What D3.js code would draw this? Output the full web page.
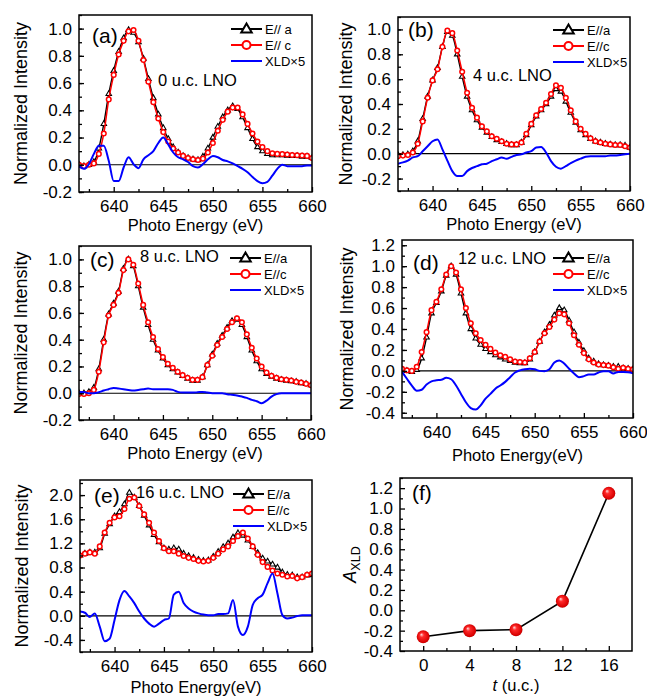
<!DOCTYPE html>
<html>
<head>
<meta charset="utf-8">
<script src="https://cdn.jsdelivr.net/npm/d3@7"></script>
<style>
body { margin: 0; background: #fff; }
svg { display: block; }
text { font-family: "Liberation Sans", Arial, sans-serif; }
</style>
</head>
<body>
<svg width="647" height="698"></svg>
<script>
// photon energy grid (eV), shared by every spectrum
var energy = [636.5, 637, 637.5, 638, 638.5, 639, 639.5, 640, 640.5, 641,
	641.5, 642, 642.5, 643, 643.5, 644, 644.5, 645, 645.5, 646,
	646.5, 647, 647.5, 648, 648.5, 649, 649.5, 650, 650.5, 651,
	651.5, 652, 652.5, 653, 653.5, 654, 654.5, 655, 655.5, 656,
	656.5, 657, 657.5, 658, 658.5, 659, 659.5, 660];

// (a) 0 u.c.
var aEa = [0.00, -0.01, 0.00, 0.02, 0.12, 0.30, 0.52, 0.69, 0.83, 0.93,
	0.99, 0.97, 0.90, 0.78, 0.63, 0.49, 0.37, 0.27, 0.19, 0.13,
	0.09, 0.065, 0.05, 0.04, 0.035, 0.06, 0.12, 0.20, 0.28, 0.35,
	0.40, 0.43, 0.41, 0.35, 0.27, 0.19, 0.13, 0.10, 0.08, 0.07,
	0.07, 0.07, 0.068, 0.065, 0.065, 0.06, 0.06, 0.05];
var aEc = [0.00, -0.01, 0.00, 0.01, 0.08, 0.23, 0.48, 0.66, 0.81, 0.91,
	0.98, 0.99, 0.91, 0.77, 0.61, 0.46, 0.34, 0.24, 0.17, 0.12,
	0.09, 0.065, 0.05, 0.04, 0.035, 0.045, 0.09, 0.16, 0.25, 0.33,
	0.39, 0.42, 0.42, 0.37, 0.30, 0.23, 0.17, 0.13, 0.10, 0.085,
	0.08, 0.078, 0.075, 0.072, 0.07, 0.068, 0.065, 0.05];
var aXld = [-0.01, -0.03, 0.005, 0.08, 0.14, 0.14, 0.03, -0.12, -0.12, -0.02,
	0.055, 0.005, -0.025, 0.04, 0.07, 0.10, 0.16, 0.20, 0.15, 0.09,
	0.055, 0.04, 0.02, -0.01, -0.02, 0.005, 0.04, 0.065, 0.055, 0.035,
	0.025, 0.01, -0.01, -0.03, -0.055, -0.09, -0.12, -0.135, -0.125, -0.08,
	-0.03, 0.0, -0.01, -0.01, -0.01, -0.01, -0.005, -0.005];

// (b) 4 u.c.
var bEa = [-0.01, -0.01, -0.005, 0.02, 0.10, 0.28, 0.46, 0.59, 0.69, 0.86,
	0.98, 0.95, 0.80, 0.62, 0.46, 0.35, 0.27, 0.21, 0.17, 0.135,
	0.11, 0.095, 0.08, 0.07, 0.07, 0.09, 0.15, 0.23, 0.30, 0.35,
	0.40, 0.46, 0.52, 0.50, 0.42, 0.33, 0.25, 0.19, 0.15, 0.12,
	0.10, 0.09, 0.08, 0.075, 0.07, 0.07, 0.065, 0.05];
var bEc = [-0.02, -0.015, -0.01, 0.01, 0.08, 0.26, 0.45, 0.59, 0.68, 0.86,
	0.99, 0.97, 0.83, 0.66, 0.49, 0.37, 0.29, 0.22, 0.18, 0.14,
	0.12, 0.10, 0.08, 0.075, 0.075, 0.09, 0.16, 0.24, 0.31, 0.36,
	0.41, 0.48, 0.55, 0.53, 0.45, 0.35, 0.26, 0.20, 0.16, 0.125,
	0.10, 0.09, 0.08, 0.075, 0.07, 0.07, 0.06, 0.05];
var bXld = [-0.08, -0.07, -0.055, -0.03, -0.02, 0.02, 0.06, 0.10, 0.115, 0.035,
	-0.055, -0.14, -0.18, -0.18, -0.14, -0.115, -0.10, -0.085, -0.08, -0.06,
	-0.045, -0.03, -0.04, -0.025, -0.01, -0.005, 0.01, 0.02, 0.05, 0.055,
	0.01, -0.06, -0.105, -0.12, -0.10, -0.075, -0.055, -0.04, -0.025, -0.02,
	-0.02, -0.02, -0.02, -0.015, -0.015, -0.01, -0.005, 0.0];

// (c) 8 u.c.
var cEa = [0.0, 0.0, 0.01, 0.04, 0.18, 0.40, 0.59, 0.67, 0.76, 0.93,
	1.0, 0.95, 0.80, 0.64, 0.51, 0.40, 0.32, 0.26, 0.21, 0.18,
	0.155, 0.13, 0.11, 0.095, 0.095, 0.12, 0.21, 0.29, 0.37, 0.43,
	0.49, 0.54, 0.55, 0.51, 0.42, 0.32, 0.24, 0.18, 0.145, 0.125,
	0.11, 0.10, 0.095, 0.09, 0.085, 0.075, 0.07, 0.06];
var cEc = [-0.005, -0.005, 0.0, 0.025, 0.16, 0.38, 0.58, 0.66, 0.75, 0.92,
	1.0, 0.96, 0.82, 0.66, 0.53, 0.42, 0.33, 0.27, 0.22, 0.19,
	0.16, 0.135, 0.115, 0.10, 0.10, 0.12, 0.21, 0.28, 0.36, 0.42,
	0.48, 0.53, 0.56, 0.53, 0.44, 0.34, 0.26, 0.20, 0.155, 0.13,
	0.115, 0.105, 0.10, 0.095, 0.085, 0.08, 0.07, 0.06];
var cXld = [0.01, 0.01, 0.0, 0.0, 0.007, 0.02, 0.03, 0.04, 0.035, 0.03,
	0.025, 0.02, 0.025, 0.03, 0.035, 0.03, 0.03, 0.03, 0.03, 0.025,
	0.01, 0.005, 0.005, 0.005, 0.007, 0.01, 0.005, 0.0, 0.0, 0.0,
	-0.007, -0.012, -0.017, -0.025, -0.035, -0.05, -0.06, -0.075, -0.055, -0.025,
	-0.007, 0.0, 0.0, 0.0, 0.0, 0.0, 0.0, 0.0];

// (d) 12 u.c.
var dEa = [0.01, 0.0, -0.01, 0.01, 0.12, 0.32, 0.55, 0.65, 0.76, 0.91,
	1.0, 0.92, 0.74, 0.55, 0.40, 0.31, 0.25, 0.21, 0.18, 0.15,
	0.13, 0.11, 0.095, 0.08, 0.075, 0.075, 0.11, 0.18, 0.28, 0.37,
	0.44, 0.53, 0.60, 0.58, 0.48, 0.37, 0.27, 0.19, 0.12, 0.09,
	0.065, 0.055, 0.05, 0.04, 0.04, 0.025, 0.02, 0.015];
var dEc = [0.02, 0.005, 0.0, 0.04, 0.18, 0.37, 0.58, 0.66, 0.78, 0.92,
	1.0, 0.94, 0.78, 0.60, 0.455, 0.36, 0.295, 0.25, 0.21, 0.175,
	0.15, 0.135, 0.11, 0.09, 0.085, 0.08, 0.12, 0.18, 0.28, 0.36,
	0.42, 0.49, 0.55, 0.54, 0.455, 0.34, 0.25, 0.17, 0.11, 0.08,
	0.06, 0.055, 0.05, 0.035, 0.02, 0.03, 0.02, 0.015];
var dXld = [-0.01, -0.075, -0.14, -0.19, -0.18, -0.13, -0.10, -0.09, -0.085, -0.065,
	-0.08, -0.14, -0.22, -0.30, -0.355, -0.37, -0.33, -0.265, -0.22, -0.17,
	-0.14, -0.105, -0.06, -0.015, 0.005, 0.015, 0.02, 0.015, 0.0, -0.003,
	0.015, 0.08, 0.10, 0.07, 0.02, -0.025, -0.06, -0.05, -0.035, -0.035,
	-0.015, -0.003, -0.003, -0.025, -0.01, -0.01, -0.013, -0.022];

// (e) 16 u.c.
var eEa = [1.0, 1.03, 1.05, 1.05, 1.12, 1.36, 1.52, 1.65, 1.72, 1.85,
	2.04, 1.96, 1.82, 1.66, 1.50, 1.34, 1.22, 1.12, 1.10, 1.12,
	1.10, 1.03, 0.99, 0.96, 0.93, 0.91, 0.92, 0.98, 1.06, 1.14,
	1.20, 1.30, 1.37, 1.33, 1.25, 1.14, 1.04, 0.95, 0.90, 0.85,
	0.80, 0.72, 0.68, 0.67, 0.64, 0.64, 0.67, 0.68];
var eEc = [1.0, 1.03, 1.05, 1.03, 1.15, 1.38, 1.54, 1.63, 1.65, 1.77,
	1.94, 1.96, 1.82, 1.68, 1.54, 1.38, 1.24, 1.12, 1.07, 1.07,
	1.03, 0.99, 0.96, 0.94, 0.91, 0.90, 0.91, 0.96, 1.03, 1.10,
	1.15, 1.24, 1.32, 1.38, 1.28, 1.15, 1.01, 0.89, 0.81, 0.75,
	0.70, 0.68, 0.65, 0.66, 0.62, 0.64, 0.68, 0.70];
var eXld = [0.07, 0.05, -0.02, 0.04, -0.18, -0.42, -0.38, -0.07, 0.26, 0.41,
	0.32, 0.21, 0.07, -0.045, -0.13, -0.18, -0.13, -0.07, -0.045, 0.35,
	0.40, 0.21, 0.12, 0.07, 0.04, 0.02, 0.01, 0.01, 0.03, 0.03,
	0.04, 0.26, -0.18, -0.32, -0.18, 0.18, 0.29, 0.35, 0.54, 0.70,
	0.37, 0.01, -0.045, -0.03, -0.005, 0.01, 0.01, 0.01];

// (f) XLD area vs thickness
var thickness = [0, 4, 8, 12, 16];
var areaXld = [-0.26, -0.20, -0.19, 0.09, 1.15];

var energyTicks = [640, 645, 650, 655, 660];
var energyMinor = [637.5, 642.5, 647.5, 652.5, 657.5];

var svg = d3.select("svg");
var font = '"Liberation Sans", Arial, sans-serif';

var panels = [
	{id: "a", label: "(a)", note: "0 u.c. LNO", ea: aEa, ec: aEc, xld: aXld,
		x0: 79, x1: 312, y0: 15, y1: 192, yDom: [-0.2, 1.1], yStep: 0.2, yMinorStep: 0.1,
		legA: "E// a", legC: "E// c", xTitle: "Photo Energy (eV)",
		labX: 92, labY: 43, noteX: 158, noteY: 86, legX: 231, legY: 29, titleX: 21, xTitleDy: 39},
	{id: "b", label: "(b)", note: "4 u.c. LNO", ea: bEa, ec: bEc, xld: bXld,
		x0: 398, x1: 630, y0: 17, y1: 191, yDom: [-0.3, 1.1], yStep: 0.2, yMinorStep: 0.1,
		legA: "E//a", legC: "E//c", xTitle: "Photo Energy (eV)",
		labX: 408, labY: 37, noteX: 473, noteY: 81, legX: 553, legY: 30, titleX: 346, xTitleDy: 39},
	{id: "c", label: "(c)", note: "8 u.c. LNO", ea: cEa, ec: cEc, xld: cXld,
		x0: 79, x1: 311, y0: 246, y1: 420, yDom: [-0.2, 1.1], yStep: 0.2, yMinorStep: 0.1,
		legA: "E//a", legC: "E//c", xTitle: "Photo Energy (eV)",
		labX: 90, labY: 267, noteX: 140, noteY: 262, legX: 230, legY: 258, titleX: 21, xTitleDy: 39},
	{id: "d", label: "(d)", note: "12 u.c. LNO", ea: dEa, ec: dEc, xld: dXld,
		x0: 402, x1: 633, y0: 240, y1: 418, yDom: [-0.45, 1.25], yStep: 0.2, yMinorStep: 0.1,
		legA: "E//a", legC: "E//c", xTitle: "Photo Energy(eV)",
		labX: 413, labY: 270, noteX: 458, noteY: 264, legX: 553, legY: 258, titleX: 347, xTitleDy: 43},
	{id: "e", label: "(e)", note: "16 u.c. LNO", ea: eEa, ec: eEc, xld: eXld,
		x0: 80, x1: 312, y0: 480, y1: 652, yDom: [-0.6, 2.25], yStep: 0.4, yMinorStep: 0.2,
		legA: "E//a", legC: "E//c", xTitle: "Photo Energy(eV)",
		labX: 94, labY: 503, noteX: 136, noteY: 498, legX: 233, legY: 494, titleX: 22, xTitleDy: 41}
];

function styleAxis(sel, size) {
	sel.select(".domain").remove();
	sel.selectAll(".tick line").attr("stroke", "#000").attr("stroke-width", 1.3);
	sel.selectAll("text").attr("font-family", font).attr("font-size", size).attr("fill", "#000");
}

function tickRange(lo, hi, step) {
	var out = [];
	var n = Math.round((hi - lo) / step);
	for (var i = 0; i <= n; i++) out.push(+(lo + i * step).toFixed(3));
	return out;
}

function drawAxes(p, x, y, xMajor, xMinor, yMajor, yMinor, xfmt) {
	svg.append("g").attr("transform", "translate(0," + p.y1 + ")")
		.call(d3.axisBottom(x).tickValues(xMajor).tickSize(-5).tickPadding(8).tickFormat(xfmt))
		.call(styleAxis, 17);
	svg.append("g").attr("transform", "translate(0," + p.y1 + ")")
		.call(d3.axisBottom(x).tickValues(xMinor).tickSize(-3).tickFormat(""))
		.call(styleAxis, 10);
	svg.append("g").attr("transform", "translate(" + p.x0 + ",0)")
		.call(d3.axisLeft(y).tickValues(yMajor).tickSize(-5).tickPadding(7).tickFormat(function(d) { return d.toFixed(1); }))
		.call(styleAxis, 17);
	svg.append("g").attr("transform", "translate(" + p.x0 + ",0)")
		.call(d3.axisLeft(y).tickValues(yMinor).tickSize(-3).tickFormat(""))
		.call(styleAxis, 10);

	svg.append("rect")
		.attr("x", p.x0).attr("y", p.y0)
		.attr("width", p.x1 - p.x0).attr("height", p.y1 - p.y0)
		.attr("fill", "none").attr("stroke", "#000").attr("stroke-width", 1.5);
}

var tri = d3.symbol().type(d3.symbolTriangle);

function drawSpectrum(p) {
	var x = d3.scaleLinear().domain([636.5, 660]).range([p.x0, p.x1]);
	var y = d3.scaleLinear().domain(p.yDom).range([p.y1, p.y0]);

	svg.append("clipPath").attr("id", "clip-" + p.id)
		.append("rect").attr("x", p.x0).attr("y", p.y0)
		.attr("width", p.x1 - p.x0).attr("height", p.y1 - p.y0);
	var plot = svg.append("g").attr("clip-path", "url(#clip-" + p.id + ")");

	plot.append("line")
		.attr("x1", p.x0).attr("x2", p.x1)
		.attr("y1", y(0)).attr("y2", y(0))
		.attr("stroke", "#000").attr("stroke-width", 1.2);

	var lineOf = function(vals) {
		return d3.line().curve(d3.curveMonotoneX)
			.x(function(d, i) { return x(energy[i]); })
			.y(function(d) { return y(d); })(vals);
	};

	plot.append("path").attr("d", lineOf(p.ea))
		.attr("fill", "none").attr("stroke", "#000").attr("stroke-width", 1.4);
	plot.selectAll(".tri").data(p.ea).enter().append("path")
		.attr("class", "tri")
		.attr("transform", function(d, i) { return "translate(" + x(energy[i]) + "," + y(d) + ")"; })
		.attr("d", tri.size(13))
		.attr("fill", "#fff").attr("stroke", "#000").attr("stroke-width", 1.1);

	plot.append("path").attr("d", lineOf(p.ec))
		.attr("fill", "none").attr("stroke", "#f00").attr("stroke-width", 1.5);
	plot.selectAll(".circ").data(p.ec).enter().append("circle")
		.attr("class", "circ")
		.attr("cx", function(d, i) { return x(energy[i]); })
		.attr("cy", function(d) { return y(d); })
		.attr("r", 2.3)
		.attr("fill", "#fff").attr("stroke", "#f00").attr("stroke-width", 1.5);

	plot.append("path").attr("d", lineOf(p.xld))
		.attr("fill", "none").attr("stroke", "#0000ff").attr("stroke-width", 2)
		.attr("stroke-linejoin", "round");

	var yMajor = tickRange(Math.ceil(p.yDom[0] / p.yStep - 1e-6) * p.yStep, p.yDom[1], p.yStep)
		.filter(function(v) { return v <= p.yDom[1] + 1e-6; });
	var yMinor = tickRange(Math.ceil(p.yDom[0] / p.yMinorStep - 1e-6) * p.yMinorStep, p.yDom[1], p.yMinorStep)
		.filter(function(v) { return v <= p.yDom[1] + 1e-6; });

	drawAxes(p, x, y, energyTicks, energyMinor, yMajor, yMinor, d3.format("d"));

	// titles
	svg.append("text")
		.attr("transform", "translate(" + p.titleX + "," + ((p.y0 + p.y1) / 2) + ") rotate(-90)")
		.attr("text-anchor", "middle").attr("dy", "0.35em")
		.attr("font-size", 18).text("Normalized Intensity");
	svg.append("text")
		.attr("x", (p.x0 + p.x1) / 2).attr("y", p.y1 + p.xTitleDy)
		.attr("text-anchor", "middle").attr("font-size", 16.5).text(p.xTitle);

	svg.append("text").attr("x", p.labX).attr("y", p.labY)
		.attr("font-size", 21).text(p.label);
	svg.append("text").attr("x", p.noteX).attr("y", p.noteY)
		.attr("font-size", 16.5).text(p.note);

	// legend
	var leg = svg.append("g");
	var rows = [
		{name: p.legA, color: "#000", mark: "tri"},
		{name: p.legC, color: "#f00", mark: "circ"},
		{name: "XLD\u00d75", color: "#0000ff", mark: "none"}
	];
	rows.forEach(function(r, i) {
		var ly = p.legY + i * 16;
		leg.append("line")
			.attr("x1", p.legX).attr("x2", p.legX + 31)
			.attr("y1", ly).attr("y2", ly)
			.attr("stroke", r.color).attr("stroke-width", 2);
		if (r.mark == "tri") {
			leg.append("path").attr("d", tri.size(48)())
				.attr("transform", "translate(" + (p.legX + 15.5) + "," + (ly + 0.5) + ")")
				.attr("fill", "#fff").attr("stroke", "#000").attr("stroke-width", 2);
		} else if (r.mark == "circ") {
			leg.append("circle").attr("cx", p.legX + 15.5).attr("cy", ly).attr("r", 4)
				.attr("fill", "#fff").attr("stroke", "#f00").attr("stroke-width", 2);
		}
		leg.append("text").attr("x", p.legX + 34).attr("y", ly).attr("dy", "0.35em")
			.attr("font-size", 13).text(r.name);
	});
}

panels.forEach(drawSpectrum);

// panel (f)
(function() {
	var p = {x0: 400, x1: 632, y0: 478, y1: 651};
	var x = d3.scaleLinear().domain([-2, 18]).range([p.x0, p.x1]);
	var y = d3.scaleLinear().domain([-0.4, 1.3]).range([p.y1, p.y0]);

	var grad = svg.append("defs").append("radialGradient")
		.attr("id", "ball").attr("cx", "50%").attr("cy", "50%").attr("r", "55%")
		.attr("fx", "35%").attr("fy", "32%");
	grad.append("stop").attr("offset", "0%").attr("stop-color", "#ffe0e0");
	grad.append("stop").attr("offset", "30%").attr("stop-color", "#ff2a2a");
	grad.append("stop").attr("offset", "85%").attr("stop-color", "#d80000");
	grad.append("stop").attr("offset", "100%").attr("stop-color", "#a00000");

	var line = d3.line()
		.x(function(d, i) { return x(thickness[i]); })
		.y(function(d) { return y(d); });
	svg.append("path").attr("d", line(areaXld))
		.attr("fill", "none").attr("stroke", "#000").attr("stroke-width", 1.6);
	svg.selectAll(".ball").data(areaXld).enter().append("circle")
		.attr("class", "ball")
		.attr("cx", function(d, i) { return x(thickness[i]); })
		.attr("cy", function(d) { return y(d); })
		.attr("r", 6.5)
		.attr("fill", "url(#ball)");

	drawAxes(p, x, y, [0, 4, 8, 12, 16], [2, 6, 10, 14],
		tickRange(-0.4, 1.2, 0.2), tickRange(-0.3, 1.3, 0.2), d3.format("d"));

	svg.append("text").attr("x", 412).attr("y", 500).attr("font-size", 21).text("(f)");

	var yt = svg.append("text")
		.attr("transform", "translate(350," + ((p.y0 + p.y1) / 2) + ") rotate(-90)")
		.attr("text-anchor", "middle").attr("dy", "0.35em").attr("font-size", 18);
	yt.append("tspan").attr("font-style", "italic").text("A");
	yt.append("tspan").attr("font-size", 12.5).attr("dy", "0.3em").text("XLD");

	var xt = svg.append("text")
		.attr("x", (p.x0 + p.x1) / 2).attr("y", p.y1 + 40)
		.attr("text-anchor", "middle").attr("font-size", 16.5);
	xt.append("tspan").attr("font-style", "italic").text("t");
	xt.append("tspan").text(" (u.c.)");
})();
</script>
</body>
</html>
